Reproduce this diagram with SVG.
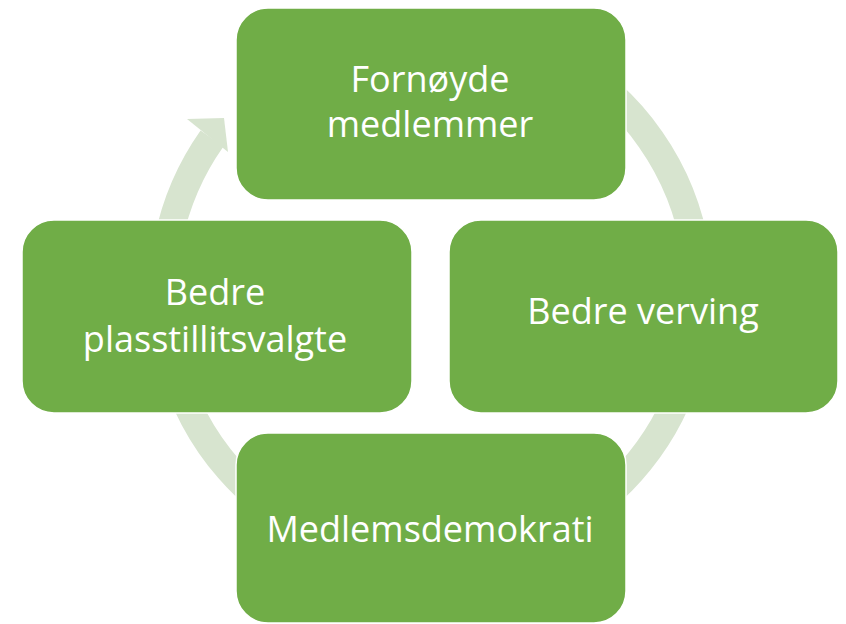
<svg xmlns="http://www.w3.org/2000/svg" width="846" height="624" viewBox="0 0 846 624">
<style>
.box{fill:#70AD47;stroke:#FFFFFF;stroke-width:1.5}
.lbl{font-family:"Open Sans","Liberation Sans",sans-serif;font-size:36px;fill:#FFFFFF;text-anchor:middle}
.ring{fill:none;stroke:#D7E4CF;stroke-width:28}
</style>
<rect width="846" height="624" fill="#FFFFFF"/>
<g id="connectors">
<path class="ring" d="M 454.4 26 A 268 268 0 1 1 212 138.5"/>
<polygon points="187,119 224,118 228,152" fill="#D7E4CF"/>
</g>
<g id="node-fornoyde">
<rect class="box" x="236" y="8" width="390" height="192" rx="32"/>
<text class="lbl" x="430" y="92">Fornøyde</text>
<text class="lbl" x="430" y="137">medlemmer</text>
</g>
<g id="node-verving">
<rect class="box" x="449" y="220" width="389" height="193" rx="32"/>
<text class="lbl" x="643" y="324">Bedre verving</text>
</g>
<g id="node-medlemsdemokrati">
<rect class="box" x="236" y="433" width="390" height="190" rx="32"/>
<text class="lbl" x="430" y="542">Medlemsdemokrati</text>
</g>
<g id="node-plasstillitsvalgte">
<rect class="box" x="22" y="220" width="390" height="193" rx="32"/>
<text class="lbl" x="215" y="305">Bedre</text>
<text class="lbl" x="215" y="352">plasstillitsvalgte</text>
</g>
</svg>
